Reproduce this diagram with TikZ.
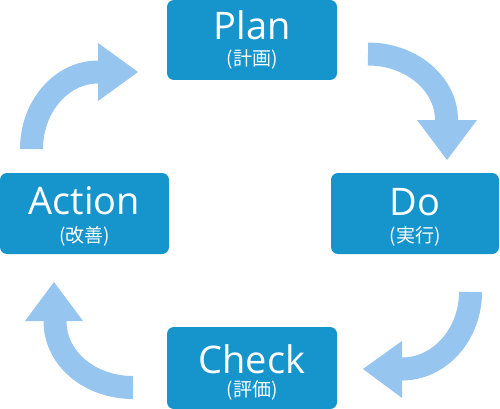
\documentclass[tikz,border=0pt]{standalone}
\usepackage{fontspec}
\setmainfont{Open Sans}
\newfontfamily\jpfont{Noto Sans CJK JP}
\definecolor{boxblue}{RGB}{22,148,204}
\definecolor{arrblue}{RGB}{150,197,240}
\begin{document}
\begin{tikzpicture}[x=1pt,y=-1pt,
  phase/.style={fill=boxblue, rounded corners=7pt, draw=none, inner sep=0pt, outer sep=0pt},
  shaft/.style={draw=arrblue, line width=23pt, line cap=butt},
  head/.style={fill=arrblue, draw=none},
  big/.style={text=white, font=\fontsize{38}{38}\selectfont, anchor=base, inner sep=0pt},
  small/.style={text=white, font=\jpfont\fontsize{19}{19}\selectfont, anchor=base, inner sep=0pt}]
\useasboundingbox (0,0) rectangle (500,409);
% boxes
\node[phase, minimum width=170pt, minimum height=80pt] (plan) at (252,40) {};
\node[phase, minimum width=169pt, minimum height=81pt] (action) at (84.5,213.5) {};
\node[phase, minimum width=168pt, minimum height=81pt] (do) at (415,213.5) {};
\node[phase, minimum width=170pt, minimum height=82pt] (check) at (252,368) {};
% texts
\node[big] (plant) at (252,40) {Plan};
\node[small] (planj) at (252,66) {(計画)};
\node[big] (actiont) at (84.5,214) {Action};
\node[small] (actionj) at (84.5,242) {(改善)};
\node[big] (dot) at (415,215) {Do};
\node[small] (doj) at (415,242) {(実行)};
\node[big] (checkt) at (252,373) {Check};
\node[small] (checkj) at (252,396) {(評価)};
% arrow 1: Action -> Plan
\coordinate (a1s) at (31.5,149);
\coordinate (a1e) at (98,72);
\draw[shaft] (a1s) .. controls (31.5,106.6) and (61.4,72) .. (a1e) -- ++(1,0);
\fill[head] (98,43) -- (138,72) -- (98,101) -- cycle;
% arrow 2: Plan -> Do
\coordinate (a2s) at (368,54);
\coordinate (a2e) at (446.5,120);
\draw[shaft] (a2s) .. controls (411.2,54) and (446.5,83.7) .. (a2e) -- ++(0,1);
\fill[head] (417,120) -- (447,160) -- (477,120) -- cycle;
% arrow 3: Do -> Check
\coordinate (a3s) at (470.5,292);
\coordinate (a3e) at (402,369);
\draw[shaft] (a3s) .. controls (470.5,334.4) and (439.7,369) .. (a3e) -- ++(-1,0);
\fill[head] (402,341) -- (363,369) -- (402,398) -- cycle;
% arrow 4: Check -> Action
\coordinate (a4s) at (133,387.5);
\coordinate (a4e) at (55,321);
\draw[shaft] (a4s) .. controls (90.1,387.5) and (55,358.9) .. (a4e) -- ++(0,-1);
\fill[head] (25,321) -- (54,282) -- (83,321) -- cycle;
\end{tikzpicture}
\end{document}
